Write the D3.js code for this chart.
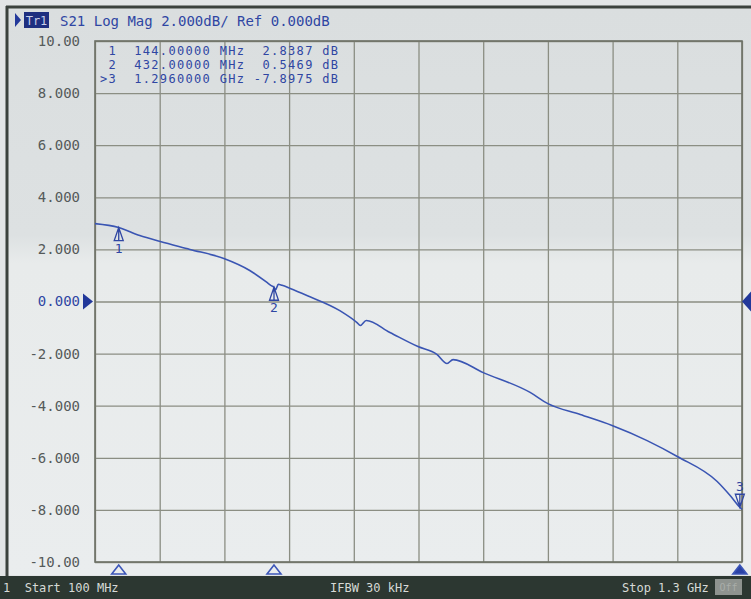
<!DOCTYPE html>
<html>
<head>
<meta charset="utf-8">
<script src="https://cdn.jsdelivr.net/npm/d3@7"></script>
<style>
html,body{margin:0;padding:0;background:#dfe3e4;}
svg{display:block;}
text{font-family:"DejaVu Sans Mono",monospace;}
</style>
</head>
<body>
<svg id="c" width="751" height="599"></svg>
<script>
// ---- data ----
const freqMHz = [100,144,183,221,276,339,387,419,426,432,435,440,447,462,493,554,586,592,603,647,699,734,753,764,820,907,940,1000,1059,1124,1180,1254,1278,1296,1300];
const s21dB   = [2.99,2.84,2.53,2.30,2.00,1.65,1.19,0.73,0.62,0.547,0.45,0.66,0.62,0.50,0.23,-0.35,-0.81,-0.92,-0.73,-1.19,-1.73,-2.03,-2.38,-2.23,-2.73,-3.49,-3.92,-4.34,-4.76,-5.34,-5.95,-6.91,-7.45,-7.8975,-7.98];
const markerIds   = ["1","2","3"];
const markerFreq  = [144,432,1296];
const markerVal   = [2.8387,0.5469,-7.8975];
const markerRows  = [" 1  144.00000 MHz  2.8387 dB"," 2  432.00000 MHz  0.5469 dB",">3  1.2960000 GHz -7.8975 dB"];
const yTicks      = [10,8,6,4,2,0,-2,-4,-6,-8,-10];
const yTickLabels = ["10.00","8.000","6.000","4.000","2.000","0.000","-2.000","-4.000","-6.000","-8.000","-10.00"];
const xGrid       = [100,220,340,460,580,700,820,940,1060,1180,1300];
const headerText  = "S21 Log Mag 2.000dB/ Ref 0.000dB";
const footerLeft  = "1  Start 100 MHz";
const footerMid   = "IFBW 30 kHz";
const footerRight = "Stop 1.3 GHz";

// ---- layout ----
const svg = d3.select("#c");
const L = 95, R = 742, T = 41, B = 562;
const x = d3.scaleLinear().domain([100,1300]).range([L,R]);
const y = d3.scaleLinear().domain([-10,10]).range([B,T]);
const blue = "#2f46a3";

// background / screen
const defs = svg.append("defs");
const g1 = defs.append("linearGradient").attr("id","bg").attr("x1",0).attr("y1",0).attr("x2",0).attr("y2",1);
g1.append("stop").attr("offset","0%").attr("stop-color","#dadedf");
g1.append("stop").attr("offset","40%").attr("stop-color","#dde1e2");
g1.append("stop").attr("offset","45%").attr("stop-color","#e8ebeb");
g1.append("stop").attr("offset","100%").attr("stop-color","#eaedee");
svg.append("rect").attr("x",0).attr("y",0).attr("width",751).attr("height",599).attr("fill","#e2e5e6");
svg.append("rect").attr("x",8).attr("y",8).attr("width",743).attr("height",567).attr("fill","url(#bg)");
// dark screen frame lines
svg.append("line").attr("x1",6).attr("x2",751).attr("y1",7).attr("y2",7).attr("stroke","#3b423d").attr("stroke-width",3);
svg.append("line").attr("x1",7).attr("x2",7).attr("y1",6).attr("y2",576).attr("stroke","#3b423d").attr("stroke-width",3);

// grid via axes
svg.append("g").attr("transform",`translate(0,${B})`)
  .call(d3.axisBottom(x).tickValues(xGrid).tickSize(-(B-T)).tickFormat(""))
  .call(g=>{g.select(".domain").remove(); g.selectAll("line").attr("stroke","#8b8e83").attr("stroke-width",1.3);});
svg.append("g").attr("transform",`translate(${L},0)`)
  .call(d3.axisLeft(y).tickValues(yTicks).tickSize(-(R-L)).tickFormat(""))
  .call(g=>{g.select(".domain").remove(); g.selectAll("line").attr("stroke","#8b8e83").attr("stroke-width",1.3);});
svg.append("rect").attr("x",L).attr("y",T).attr("width",R-L).attr("height",B-T)
  .attr("fill","none").attr("stroke","#6d7166").attr("stroke-width",1.6);

// y labels
svg.append("g").attr("transform",`translate(${L},0)`)
  .call(d3.axisLeft(y).tickValues(yTicks).tickSize(0).tickPadding(15).tickFormat((d,i)=>yTickLabels[i]))
  .call(g=>{g.select(".domain").remove();
    g.selectAll("text").attr("font-family","DejaVu Sans Mono, monospace").attr("font-size",14)
     .attr("fill",d=>d===0?blue:"#555a5a");});

// reference-level pointers
svg.append("path").attr("d",`M${L-12},${y(0)-8}L${L-2},${y(0)}L${L-12},${y(0)+8}Z`).attr("fill","#22389a");
svg.append("path").attr("d",`M751,${y(0)-10}L742,${y(0)}L751,${y(0)+10}Z`).attr("fill","#22389a");

// header
svg.append("path").attr("d","M15,13L21,20L15,27Z").attr("fill","#22389a");
svg.append("rect").attr("x",24).attr("y",12).attr("width",25).attr("height",16).attr("fill","#1e2f80");
svg.append("text").attr("x",36.5).attr("y",25).attr("text-anchor","middle").attr("font-size",12).attr("fill","#c9d0ea").text("Tr1");
svg.append("text").attr("x",60).attr("y",26).attr("font-size",14).attr("fill",blue).text(headerText);

// marker table
svg.append("g").selectAll("text").data(markerRows).join("text")
  .attr("x",100).attr("y",(d,i)=>55+i*14).attr("font-size",12).attr("fill",blue)
  .attr("textLength",238).attr("lengthAdjust","spacing")
  .attr("xml:space","preserve").style("white-space","pre").text(d=>d);

// trace
const line = d3.line().x((d,i)=>x(freqMHz[i])).y(d=>y(d)).curve(d3.curveMonotoneX);
svg.append("path").datum(s21dB).attr("d",line).attr("fill","none").attr("stroke","#3a55b3").attr("stroke-width",1.6);

// markers on trace
markerIds.forEach((id,i)=>{
  const mx = x(markerFreq[i]), my = y(markerVal[i]);
  const active = i===2;
  if(!active){
    svg.append("path").attr("d",`M${mx},${my}L${mx-4.5},${my+13}L${mx+4.5},${my+13}Z M${mx},${my}L${mx},${my+13}`)
      .attr("fill","none").attr("stroke",blue).attr("stroke-width",1.3);
    svg.append("text").attr("x",mx).attr("y",my+25).attr("text-anchor","middle").attr("font-size",13).attr("fill",blue).text(id);
  } else {
    svg.append("path").attr("d",`M${mx},${my}L${mx-4.5},${my-13}L${mx+4.5},${my-13}Z M${mx},${my}L${mx},${my-13}`)
      .attr("fill","none").attr("stroke",blue).attr("stroke-width",1.3);
    svg.append("text").attr("x",mx).attr("y",my-16).attr("text-anchor","middle").attr("font-size",13).attr("fill",blue).text(id);
  }
  // bottom stimulus markers
  const by = B+3;
  svg.append("path").attr("d",`M${mx},${by}L${mx-7},${by+9}L${mx+7},${by+9}Z`)
    .attr("fill",active?"#2a42a6":"none").attr("stroke","#3c56b8").attr("stroke-width",1.6);
});

// footer bar
svg.append("rect").attr("x",0).attr("y",576).attr("width",751).attr("height",23).attr("fill","#2c3731");
const ff = "DejaVu Sans Condensed, DejaVu Sans, sans-serif";
svg.append("text").attr("x",3).attr("y",592).attr("font-family",ff).attr("font-size",12).attr("fill","#d6dad6").attr("xml:space","preserve").style("white-space","pre").text(footerLeft);
svg.append("text").attr("x",330).attr("y",592).attr("font-family",ff).attr("font-size",12).attr("fill","#d6dad6").text(footerMid);
svg.append("text").attr("x",622).attr("y",592).attr("font-family",ff).attr("font-size",12).attr("fill","#d6dad6").text(footerRight);
svg.append("rect").attr("x",715).attr("y",579).attr("width",27).attr("height",16).attr("fill","#8e938f");
svg.append("text").attr("x",728.5).attr("y",591).attr("text-anchor","middle").attr("font-family",ff).attr("font-size",10).attr("fill","#a9ada9").text("Off");
</script>
</body>
</html>
